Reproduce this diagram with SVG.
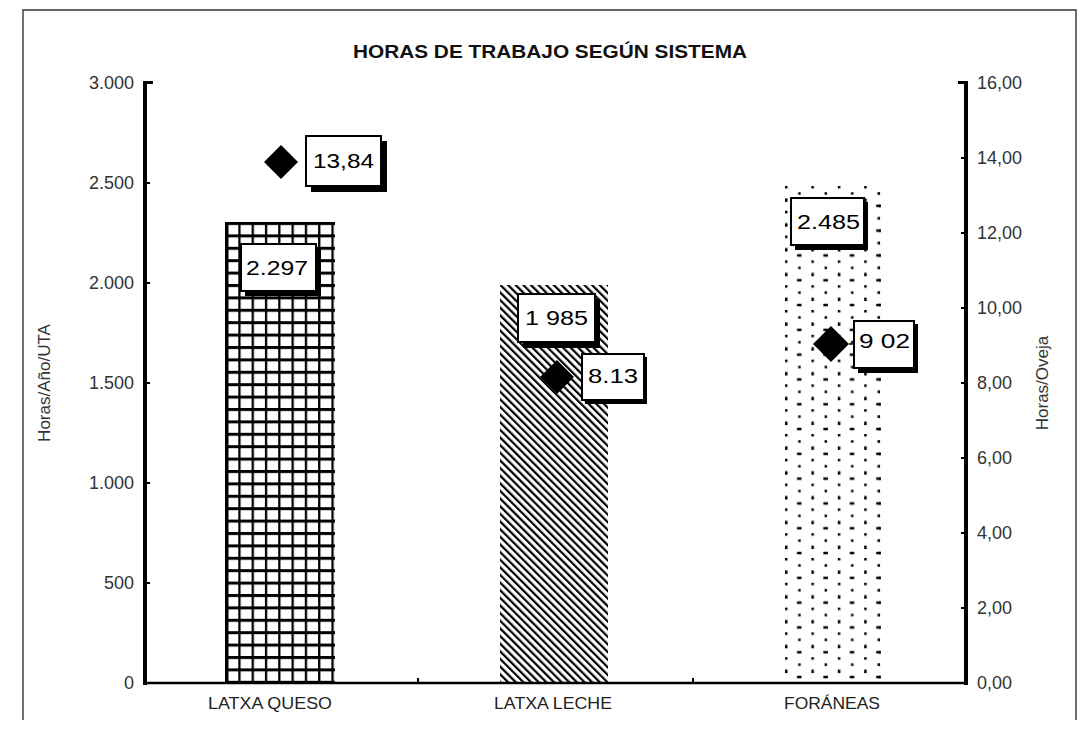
<svg xmlns="http://www.w3.org/2000/svg" width="1087" height="731" viewBox="0 0 1087 731">
<style>
.frame{fill:none;stroke:#333;stroke-width:1.4}
.ax{stroke:#000;fill:none}
.tl{font-family:"Liberation Sans",Arial,sans-serif;font-size:18px;fill:#333}
.at{font-family:"Liberation Sans",Arial,sans-serif;font-size:17px;fill:#333}
.cat{font-family:"Liberation Sans",Arial,sans-serif;font-size:17px;fill:#222}
.title{font-family:"Liberation Sans",Arial,sans-serif;font-size:18px;font-weight:bold;fill:#111}
.box{fill:#fff;stroke:#000;stroke-width:2}
.sh{fill:#000}
.val{font-family:"Liberation Sans",Arial,sans-serif;font-size:20px;fill:#000}
.dia{fill:#000}
</style>
<defs>
<pattern id="grid" patternUnits="userSpaceOnUse" x="225" y="222" width="13.3" height="12.4">
<rect x="0" y="0" width="13.3" height="3" fill="#000"/>
<rect x="0" y="0" width="2.3" height="12.4" fill="#000"/>
</pattern>
<pattern id="diag" patternUnits="userSpaceOnUse" width="5.4" height="5.4" patternTransform="rotate(-45)">
<rect x="0" y="0" width="2.2" height="5.4" fill="#000"/>
</pattern>
<pattern id="dots" patternUnits="userSpaceOnUse" x="785" y="186" width="26.4" height="24.8">
<rect x="0" y="0" width="2.5" height="2.5" fill="#000"/>
<rect x="0" y="12.4" width="2.5" height="3.5" fill="#000"/>
<rect x="13.2" y="6.2" width="2.5" height="2.5" fill="#000"/>
<rect x="12" y="18.6" width="4.5" height="2.5" fill="#000"/>
</pattern>
</defs>

<path class="frame" d="M23,720 V10 H1076 V720"/>

<g id="title"><text class="title" x="550" y="58" text-anchor="middle" textLength="394" lengthAdjust="spacingAndGlyphs">HORAS DE TRABAJO SEGÚN SISTEMA</text></g>

<g id="bars">
<rect id="bar-queso" x="225" y="222" width="110" height="461" fill="url(#grid)"/>
<rect x="225" y="222" width="3.5" height="461" fill="#000"/>
<rect id="bar-leche" x="500" y="285" width="108" height="398" fill="url(#diag)"/>
<rect id="bar-foraneas" x="785" y="186" width="97" height="497" fill="url(#dots)"/>
<rect x="879" y="186" width="3" height="497" fill="url(#dots)"/>
</g>

<g id="axes">
<line class="ax" x1="145" y1="81" x2="145" y2="685" stroke-width="4"/>
<line class="ax" x1="143" y1="82.5" x2="153" y2="82.5" stroke-width="3"/>
<line class="ax" x1="966" y1="81" x2="966" y2="685" stroke-width="4"/>
<line class="ax" x1="958" y1="82.5" x2="968" y2="82.5" stroke-width="3"/>
<line class="ax" x1="143" y1="683" x2="968" y2="683" stroke-width="2.5"/>
<path class="ax" stroke-width="2" d="M147,183h3M147,283h3M147,383h3M147,483h3M147,583h3M964,158h-3M964,233h-3M964,308h-3M964,383h-3M964,458h-3M964,533h-3M964,608h-3M418,683v-5M693,683v-5"/>
</g>

<g id="left-labels">
<text class="tl" x="134" y="89" text-anchor="end">3.000</text>
<text class="tl" x="134" y="189" text-anchor="end">2.500</text>
<text class="tl" x="134" y="289" text-anchor="end">2.000</text>
<text class="tl" x="134" y="389" text-anchor="end">1.500</text>
<text class="tl" x="134" y="489" text-anchor="end">1.000</text>
<text class="tl" x="134" y="589" text-anchor="end">500</text>
<text class="tl" x="134" y="689" text-anchor="end">0</text>
<text class="at" transform="translate(50,383) rotate(-90)" text-anchor="middle">Horas/Año/UTA</text>
</g>

<g id="right-labels">
<text class="tl" x="977" y="89">16,00</text>
<text class="tl" x="977" y="164">14,00</text>
<text class="tl" x="977" y="239">12,00</text>
<text class="tl" x="977" y="314">10,00</text>
<text class="tl" x="977" y="389">8,00</text>
<text class="tl" x="977" y="464">6,00</text>
<text class="tl" x="977" y="539">4,00</text>
<text class="tl" x="977" y="614">2,00</text>
<text class="tl" x="977" y="689">0,00</text>
<text class="at" transform="translate(1048,383) rotate(-90)" text-anchor="middle">Horas/Oveja</text>
</g>

<g id="categories">
<text class="cat" x="270" y="709" text-anchor="middle" textLength="124" lengthAdjust="spacingAndGlyphs">LATXA QUESO</text>
<text class="cat" x="553" y="709" text-anchor="middle" textLength="118" lengthAdjust="spacingAndGlyphs">LATXA LECHE</text>
<text class="cat" x="832" y="709" text-anchor="middle" textLength="96" lengthAdjust="spacingAndGlyphs">FORÁNEAS</text>
</g>

<g id="markers">
<polygon class="dia" points="281,145 298,162 281,179 264,162"/>
<polygon class="dia" points="557,360 574,377 557,394 540,377"/>
<polygon class="dia" points="831,326 849,344 831,362 813,344"/>
<line x1="849" y1="344" x2="855" y2="344" stroke="#000" stroke-width="1.5"/>
</g>

<g id="label-13-84">
<rect class="sh" x="311" y="141" width="76" height="51"/>
<rect class="box" x="306" y="136" width="75" height="50"/>
<text class="val" x="313" y="168" textLength="61" lengthAdjust="spacingAndGlyphs">13,84</text>
</g>
<g id="label-2297">
<rect class="sh" x="245" y="248" width="76" height="48"/>
<rect class="box" x="241" y="244" width="75" height="47"/>
<text class="val" x="246" y="275" textLength="62" lengthAdjust="spacingAndGlyphs">2.297</text>
</g>
<g id="label-1985">
<rect class="sh" x="523" y="299" width="77" height="49"/>
<rect class="box" x="518" y="294" width="77" height="48"/>
<text class="val" x="525" y="325" textLength="63" lengthAdjust="spacingAndGlyphs">1 985</text>
</g>
<g id="label-813">
<rect class="sh" x="585" y="357" width="62" height="47"/>
<rect class="box" x="582" y="354" width="62" height="46"/>
<text class="val" x="588" y="383" textLength="50" lengthAdjust="spacingAndGlyphs">8.13</text>
</g>
<g id="label-2485">
<rect class="sh" x="795" y="202" width="73" height="48"/>
<rect class="box" x="791" y="198" width="73" height="47"/>
<text class="val" x="797" y="229" textLength="63" lengthAdjust="spacingAndGlyphs">2.485</text>
</g>
<g id="label-902">
<rect class="sh" x="858" y="324" width="60" height="49"/>
<rect class="box" x="854" y="321" width="60" height="47"/>
<text class="val" x="859" y="348" textLength="51" lengthAdjust="spacingAndGlyphs">9 02</text>
</g>
</svg>
